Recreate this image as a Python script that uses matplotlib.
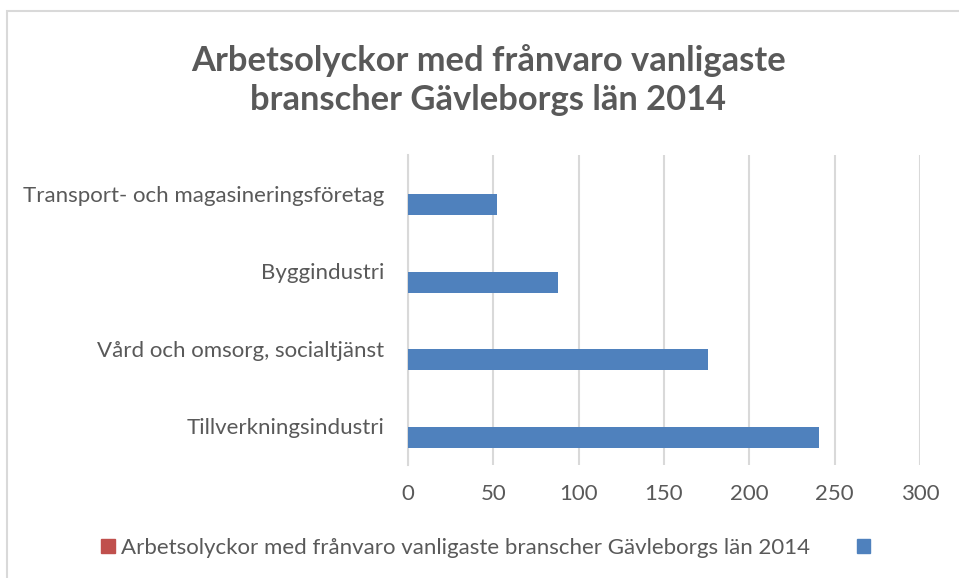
import matplotlib
matplotlib.use('Agg')
import matplotlib.pyplot as plt
from matplotlib.patches import Patch, Rectangle

# data (bottom to top, as drawn)
categories = ['Tillverkningsindustri', 'Vård och omsorg, socialtjänst',
              'Byggindustri', 'Transport- och magasineringsföretag']
values = [241, 176, 88, 52]
xticks = [0, 50, 100, 150, 200, 250, 300]
title = 'Arbetsolyckor med frånvaro vanligaste\nbranscher Gävleborgs län 2014'
series_name = 'Arbetsolyckor med frånvaro vanligaste branscher Gävleborgs län 2014'

text_col = '#595959'
grid_col = '#D9D9D9'
blue = '#4F81BD'
red = '#C0504D'

plt.rcParams['font.family'] = ['Lato', 'DejaVu Sans']

fig = plt.figure(figsize=(9.59, 5.78), dpi=100)
ax = fig.add_axes([408 / 959, 1 - 465 / 578, 512 / 959, 310 / 578])

# chart border (runs off the right and bottom of the picture)
fig.patches.append(Rectangle((7 / 959, -0.05), 1.0, 1 - 11 / 578 + 0.05,
                             transform=fig.transFigure, fill=False,
                             edgecolor=grid_col, linewidth=1.5))

ypos = [i - 0.14 for i in range(len(categories))]
ax.barh(ypos, values, height=0.27, color=blue, zorder=3)

ax.set_xlim(0, 300)
ax.set_ylim(-0.5, len(categories) - 0.5)
ax.set_xticks(xticks)
ax.set_yticks(range(len(categories)))
ax.set_yticklabels(categories)
ax.tick_params(axis='both', length=0, labelsize=16, colors=text_col)
ax.tick_params(axis='x', pad=14)
ax.tick_params(axis='y', pad=17)
ax.grid(axis='x', color=grid_col, linewidth=1.5, zorder=0)
for s in ['top', 'right', 'bottom']:
    ax.spines[s].set_visible(False)
ax.spines['left'].set_color(grid_col)
ax.spines['left'].set_linewidth(1.5)

fig.text(0.509, 1 - 80 / 578, title, ha='center', va='center',
         fontsize=24.8, fontweight='bold', color=text_col, linespacing=1.3)

handles = [Patch(color=red, label=series_name), Patch(color=blue, label=' ')]
fig.legend(handles=handles, loc='center', bbox_to_anchor=(0.513, 1 - 548 / 578),
           ncol=2, frameon=False, fontsize=16, labelcolor=text_col,
           handlelength=0.6, handleheight=0.6, handletextpad=0.3,
           columnspacing=2.1)

fig.savefig('out.png', dpi=100)
